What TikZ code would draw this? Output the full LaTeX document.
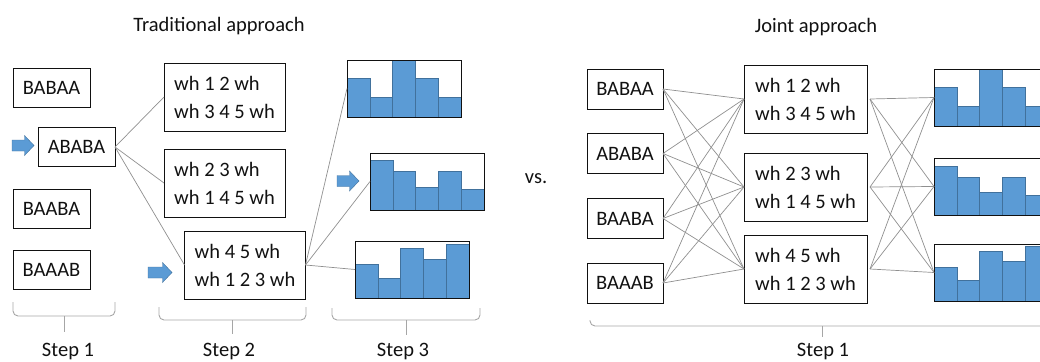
\documentclass[tikz,border=0pt]{standalone}
\usepackage{fontspec}
\setmainfont{Carlito}

\definecolor{barfill}{HTML}{5B9BD5}
\definecolor{baredge}{HTML}{41719C}
\definecolor{wirecol}{HTML}{8F8F8F}
\definecolor{bracecol}{HTML}{A6A6A6}
\definecolor{inkcol}{HTML}{111111}

\tikzset{
  every node/.style={font=\fontsize{20.5}{28}\selectfont, text=inkcol, inner sep=0pt, outer sep=0pt},
  seqbox/.style={draw=inkcol, line width=1pt, minimum width=77pt, minimum height=39pt},
  whbox/.style={draw=inkcol, line width=1pt, minimum width=121pt, minimum height=68pt, align=left},
  histframe/.style={draw=inkcol, line width=1pt, minimum width=114pt, minimum height=57pt},
  wire/.style={draw=wirecol, line width=0.7pt},
  bracepath/.style={draw=bracecol, line width=0.9pt, rounded corners=5pt},
  blockarrow/.style={fill=barfill, draw=baredge, line width=0.4pt},
}

% histogram: name, left x, top y, five bar heights (fractions of the frame)
\newcommand\histo[4]{%
  \foreach \h [count=\i from 0] in {#4} {
    \fill[barfill, draw=baredge, line width=0.6pt]
      ({#2+\i*22.8}, {#3+57}) rectangle ({#2+(\i+1)*22.8}, {#3+57-57*\h});
  }
  \node[histframe, anchor=north west] (#1) at (#2,#3) {};
}

% block arrow pointing right: left x, centre y, length
\newcommand\blockarr[3]{%
  \path[blockarrow] (#1,#2-5.5) -- ++(#3-9.5,0) -- ++(0,-4.5) -- (#1+#3,#2)
    -- (#1+#3-9.5,#2+10) -- ++(0,-4.5) -- (#1,#2+5.5) -- cycle;
}

% brace under a column: left x, right x, middle x, top y, bar y, tick y
\newcommand\stepbrace[6]{%
  \draw[bracepath] (#1,#4) -- (#1,#5) -- (#2,#5) -- (#2,#4);
  \draw[bracepath] (#3,#5) -- (#3,#6);
}

\begin{document}
\begin{tikzpicture}[x=1pt, y=-1pt]
\useasboundingbox (0,0) rectangle (1040,361);
\clip (0,0) rectangle (1040,361);

% ---------------- traditional approach ----------------
\node[anchor=base] (ttitle) at (219,32) {Traditional approach};

\node[seqbox] (lbabaa) at (51.5,87.5) {BABAA};
\node[seqbox] (lababa) at (76.5,147) {ABABA};
\node[seqbox] (lbaaba) at (51.5,209) {BAABA};
\node[seqbox] (lbaaab) at (51.5,269.5) {BAAAB};

\node[whbox] (lw1) at (224.5,97) {wh 1 2 wh\\wh 3 4 5 wh};
\node[whbox] (lw2) at (224.5,183) {wh 2 3 wh\\wh 1 4 5 wh};
\node[whbox] (lw3) at (245,265) {wh 4 5 wh\\wh 1 2 3 wh};

\histo{lh1}{347}{60}{0.68,0.35,1,0.68,0.35}
\histo{lh2}{370}{153}{0.87,0.68,0.40,0.68,0.36}
\histo{lh3}{355}{241}{0.60,0.35,0.88,0.68,0.95}

\blockarr{12}{145.5}{22}
\blockarr{148}{272.5}{24}
\blockarr{337}{181}{22}

\draw[wire] (lababa.east) -- (lw1.west);
\draw[wire] (lababa.east) -- (lw2.west);
\draw[wire] (lababa.east) -- (lw3.west);
\draw[wire] (lw3.east) -- (lh1.west);
\draw[wire] (lw3.east) -- (lh2.west);
\draw[wire] (lw3.east) -- (lh3.west);

\stepbrace{13}{115}{64}{302}{316}{332}
\stepbrace{159}{306}{232}{307}{320}{334}
\stepbrace{332}{480}{406}{308}{320}{335}
\node[anchor=base] (lstep1) at (68,356) {Step 1};
\node[anchor=base] (lstep2) at (229,356) {Step 2};
\node[anchor=base] (lstep3) at (403,356) {Step 3};

\node[anchor=base] (versus) at (536,183) {vs.};

% ---------------- joint approach ----------------
\node[anchor=base] (jtitle) at (816,33) {Joint approach};

\node[seqbox, minimum width=76pt, minimum height=40pt] (rbabaa) at (625,89) {BABAA};
\node[seqbox, minimum width=76pt, minimum height=40pt] (rababa) at (625,153.5) {ABABA};
\node[seqbox, minimum width=76pt, minimum height=40pt] (rbaaba) at (625,218.5) {BAABA};
\node[seqbox, minimum width=76pt, minimum height=40pt] (rbaaab) at (625,283) {BAAAB};

\node[whbox, minimum width=123pt] (rw1) at (805.5,99) {wh 1 2 wh\\wh 3 4 5 wh};
\node[whbox, minimum width=123pt] (rw2) at (805.5,187) {wh 2 3 wh\\wh 1 4 5 wh};
\node[whbox, minimum width=123pt] (rw3) at (805.5,269) {wh 4 5 wh\\wh 1 2 3 wh};

\histo{rh1}{934}{69}{0.68,0.35,1,0.68,0.35}
\histo{rh2}{934}{158}{0.86,0.67,0.40,0.67,0.34}
\histo{rh3}{934}{244}{0.60,0.36,0.87,0.69,0.96}

\foreach \s in {rbabaa,rababa,rbaaba,rbaaab}
  \foreach \w in {rw1,rw2,rw3}
    \draw[wire] (\s.east) -- (\w.west);
\foreach \w in {rw1,rw2,rw3}
  \foreach \h in {rh1,rh2,rh3}
    \draw[wire] ([xshift=3pt]\w.east) -- (\h.west);

\stepbrace{590}{1070}{822}{320}{326}{337}
\node[anchor=base] (rstep1) at (823,356) {Step 1};

\end{tikzpicture}
\end{document}
